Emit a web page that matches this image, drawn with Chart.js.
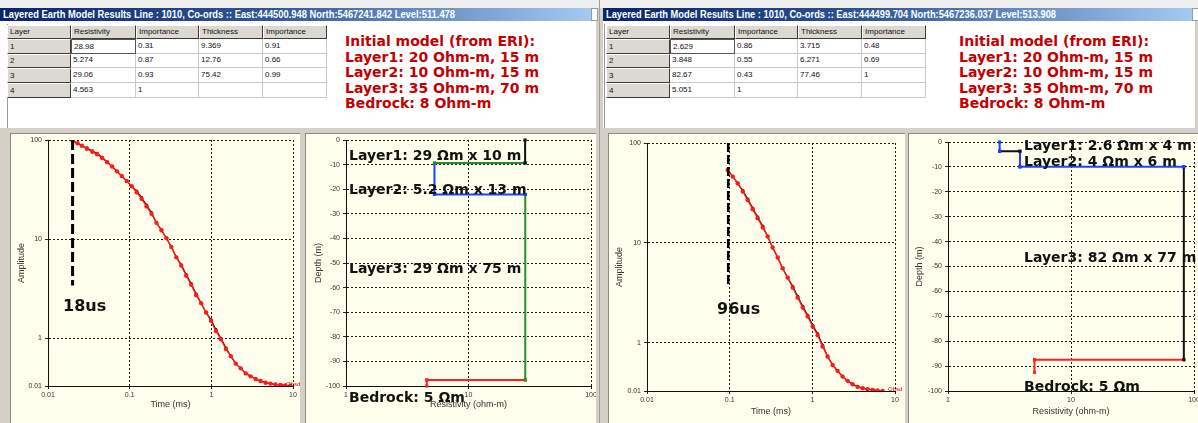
<!DOCTYPE html>
<html><head><meta charset="utf-8">
<script src="https://cdn.jsdelivr.net/npm/chart.js@4.4.1/dist/chart.umd.min.js"></script>
<style>
html,body{margin:0;padding:0;}
body{width:1198px;height:423px;overflow:hidden;position:relative;background:#d4d0c8;font-family:"Liberation Sans",Arial,sans-serif;}
.abs{position:absolute;}
.title{position:absolute;height:13px;top:8px;background:linear-gradient(to right,#0a246a 0%,#2f5594 45%,#a6caf0 100%);color:#fff;white-space:nowrap;overflow:hidden;}
.title span{position:absolute;left:3px;top:0;font:bold 10px "Liberation Sans";line-height:13px;transform-origin:0 50%;}
.icon{position:absolute;top:8px;width:5px;height:11px;background:#fff;border:1px solid #999;}
.body{position:absolute;top:21px;height:107px;background:#fff;}
.cell{position:absolute;box-sizing:border-box;font:8px "Liberation Sans";color:#111;padding-left:2px;white-space:nowrap;overflow:hidden;}
.gray{background:#dcd9d2;border-top:1px solid #fff;border-left:1px solid #fff;border-right:1px solid #3c3c3c;border-bottom:1px solid #3c3c3c;}
.white{background:#fff;border-right:1px solid #c9c9c9;border-bottom:1px solid #c9c9c9;}
.focus{border:1px solid #555;}
.red{position:absolute;top:34px;font:bold 14px "DejaVu Sans";line-height:15.6px;color:#c40000;white-space:nowrap;}
.panel{position:absolute;top:133px;height:290px;background:#fefeec;box-sizing:border-box;border-left:1px solid #8a8a8a;border-top:1px solid #8a8a8a;}
canvas{position:absolute;}
.lbl{position:absolute;font:bold 14px "DejaVu Sans";line-height:16px;color:#111;white-space:nowrap;}
.big{position:absolute;font:bold 16px "DejaVu Sans";line-height:18px;color:#111;white-space:nowrap;}
.tiny{position:absolute;font:6px "Liberation Sans";color:#e00000;white-space:nowrap;line-height:7px;}
</style>
</head>
<body>
<div class="abs" style="left:0;top:0;width:1198px;height:8px;background:#efefef"></div>

<div class="title" style="left:0;width:592px"><span id="tL"></span></div>
<div class="icon" style="left:591px"></div>
<div class="title" style="left:603px;width:590px"><span id="tR"></span></div>
<div class="icon" style="left:1192px"></div>

<div class="body" style="left:0;width:596px"></div>
<div class="abs" style="left:7px;top:24px;width:1px;height:104px;background:#9a9a9a"></div>
<div class="body" style="left:603px;width:592px"></div>
<div class="abs" style="left:604px;top:24px;width:1px;height:104px;background:#9a9a9a"></div>
<div class="abs" style="left:599px;top:0;width:1px;height:423px;background:#a0a0a0"></div>

<div id="tableL"></div>
<div id="tableR"></div>

<div class="red" id="redL" style="left:345px"></div>
<div class="red" id="redR" style="left:959px"></div>

<div class="panel" style="left:10px;width:290px"></div>
<div class="panel" style="left:305px;width:291px"></div>
<div class="panel" style="left:608px;width:297px"></div>
<div class="panel" style="left:908px;width:290px"></div>

<canvas id="ampL" width="290" height="290" style="left:10px;top:133px"></canvas>
<canvas id="depL" width="291" height="290" style="left:305px;top:133px"></canvas>
<canvas id="ampR" width="297" height="290" style="left:608px;top:133px"></canvas>
<canvas id="depR" width="290" height="290" style="left:908px;top:133px"></canvas>

<div id="labels"></div>

<script>
// ---------------- DATA ----------------
const titleLeft = 'Layered Earth Model Results Line : 1010, Co-ords :: East:444500.948 North:5467241.842 Level:511.478';
const titleRight = 'Layered Earth Model Results Line : 1010, Co-ords :: East:444499.704 North:5467236.037 Level:513.908';

const tableHeaders = ['Layer', 'Resistivity', 'Importance', 'Thickness', 'Importance'];
const layerIds = [1, 2, 3, 4];

const leftResistivity = [28.98, 5.274, 29.06, 4.563];
const leftResImportance = [0.31, 0.87, 0.93, 1];
const leftThickness = [9.369, 12.76, 75.42];
const leftThkImportance = [0.91, 0.66, 0.99];
const leftBedrockBase = -100;

const rightResistivity = [2.629, 3.848, 82.67, 5.051];
const rightResImportance = [0.86, 0.55, 0.43, 1];
const rightThickness = [3.715, 6.271, 77.46];
const rightThkImportance = [0.48, 0.69, 1];
const rightBedrockBase = -92.5;

const initialModelText = ['Initial model (from ERI):', 'Layer1: 20 Ohm-m, 15 m', 'Layer2: 10 Ohm-m, 15 m', 'Layer3: 35 Ohm-m, 70 m', 'Bedrock: 8 Ohm-m'];

// Decay curves (time in ms, amplitude)
const leftTimes = [0.020, 0.023, 0.026, 0.030, 0.035, 0.040, 0.046, 0.053, 0.061, 0.070, 0.080, 0.092, 0.106, 0.122, 0.140, 0.161, 0.185, 0.213, 0.245, 0.282, 0.324, 0.373, 0.429, 0.493, 0.567, 0.652, 0.750, 0.862, 0.991, 1.14, 1.31, 1.51, 1.73, 1.99, 2.29, 2.64, 3.03, 3.49, 4.01, 4.61, 5.30, 6.10, 7.01, 8.06, 9.27];
const leftObserved = [98, 92.6, 87.6, 81.7, 76, 71.8, 65.8, 59.8, 54.1, 48.3, 43.3, 38.5, 34.1, 29.7, 25.5, 21.4, 18, 14.6, 12.3, 10.2, 8.34, 6.55, 5.4, 4.27, 3.47, 2.72, 2.26, 1.82, 1.5, 1.18, 0.975, 0.78, 0.66, 0.555, 0.497, 0.442, 0.413, 0.388, 0.37, 0.356, 0.349, 0.343, 0.339, 0.335, 0.333];
const leftModel = [98, 92.6, 87.6, 83.2, 77.6, 73.2, 67, 59.8, 54.1, 48.3, 43.3, 38.5, 34.1, 30.5, 26.2, 22, 18.5, 14.6, 12.3, 10.2, 8.34, 6.55, 5.5, 4.38, 3.56, 2.79, 2.26, 1.82, 1.54, 1.22, 1.0, 0.8, 0.66, 0.555, 0.497, 0.442, 0.413, 0.388, 0.37, 0.356, 0.349, 0.343, 0.339, 0.335, 0.333];
const leftMarkerTime = 0.02;
const leftMarkerAmp = [100, 3.4];

const rightTimes = [0.0946, 0.109, 0.125, 0.144, 0.165, 0.190, 0.218, 0.251, 0.288, 0.331, 0.381, 0.437, 0.503, 0.578, 0.664, 0.764, 0.877, 1.01, 1.16, 1.33, 1.53, 1.76, 2.02, 2.32, 2.67, 3.07, 3.53, 4.06, 4.66, 5.36, 6.16, 7.08];
const rightObserved = [53.7, 46.1, 39.5, 32.7, 26.9, 21.7, 17.7, 14.3, 11.6, 9.0, 7.15, 5.58, 4.5, 3.58, 2.84, 2.26, 1.84, 1.46, 1.19, 0.92, 0.73, 0.60, 0.525, 0.461, 0.417, 0.386, 0.363, 0.352, 0.344, 0.339, 0.334, 0.331];
const rightModel = [53.7, 46.1, 39.5, 33.5, 27.6, 22.3, 18.2, 14.7, 11.6, 9.0, 7.15, 5.58, 4.5, 3.68, 2.92, 2.33, 1.9, 1.5, 1.23, 0.95, 0.73, 0.60, 0.525, 0.461, 0.417, 0.386, 0.363, 0.352, 0.344, 0.339, 0.334, 0.331];
const rightMarkerTime = 0.096;
const rightMarkerAmp = [100, 3.8];

// Axis ticks
const timeTicks = [0.01, 0.1, 1, 10];
const timeTickLabels = ['0.01', '0.1', '1', '10'];
const ampTicks = [0.33, 1, 10, 100];
const ampTickLabels = ['0.01', '1', '10', '100'];
const resTicks = [1, 10, 100];
const resTickLabels = ['1', '10', '100'];

// Segment colours of the layered-model step plots
const leftSegColors = ['#111111', '#2e8b2e', '#2040ff', '#2040ff', '#2e8b2e', '#ff2020', '#ff2020'];
const rightSegColors = ['#2040ff', '#111111', '#2040ff', '#2040ff', '#111111', '#ff2020', '#ff2020'];

// Annotation texts
const leftLayerLabels = ['Layer1: 29 Ωm x 10 m', 'Layer2: 5.2 Ωm x 13 m', 'Layer3: 29 Ωm x 75 m', 'Bedrock: 5 Ωm'];
const rightLayerLabels = ['Layer1: 2.6 Ωm x 4 m', 'Layer2: 4 Ωm x 6 m', 'Layer3: 82 Ωm x 77 m', 'Bedrock: 5 Ωm'];

// ---------------- PAGE CHROME ----------------
function fitTitle(id, text, target) {
  const s = document.getElementById(id);
  s.textContent = text;
  const w = s.getBoundingClientRect().width;
  s.style.transform = 'scaleX(' + (target / w) + ')';
}
fitTitle('tL', titleLeft, 452);
fitTitle('tR', titleRight, 450);

function buildTable(containerId, x0, y0, res, resImp, thk, thkImp) {
  const c = document.getElementById(containerId);
  const colEdges = [0, 64, 129, 192, 256, 320];
  const rowEdges = [0, 14, 29, 43, 58, 73];
  const rows = [tableHeaders];
  for (let i = 0; i < layerIds.length; i++) {
    rows.push([String(layerIds[i]), String(res[i]), String(resImp[i]),
      thk[i] !== undefined ? String(thk[i]) : '', thkImp[i] !== undefined ? String(thkImp[i]) : '']);
  }
  rows.forEach((row, r) => {
    row.forEach((txt, k) => {
      const d = document.createElement('div');
      let cls = 'cell ' + ((r === 0 || k === 0) ? 'gray' : 'white');
      if (r === 1 && k === 1) cls += ' focus';
      d.className = cls;
      const h = rowEdges[r + 1] - rowEdges[r];
      d.style.left = (x0 + colEdges[k]) + 'px';
      d.style.top = (y0 + rowEdges[r]) + 'px';
      d.style.width = (colEdges[k + 1] - colEdges[k]) + 'px';
      d.style.height = h + 'px';
      d.style.lineHeight = (h - 2) + 'px';
      d.textContent = txt;
      c.appendChild(d);
    });
  });
}
buildTable('tableL', 7, 25, leftResistivity, leftResImportance, leftThickness, leftThkImportance);
buildTable('tableR', 606, 25, rightResistivity, rightResImportance, rightThickness, rightThkImportance);

document.getElementById('redL').innerHTML = initialModelText.join('<br>');
document.getElementById('redR').innerHTML = initialModelText.join('<br>');

function addLabel(cls, text, x, y) {
  const d = document.createElement('div');
  d.className = cls;
  d.style.left = x + 'px';
  d.style.top = y + 'px';
  d.textContent = text;
  document.getElementById('labels').appendChild(d);
}
addLabel('lbl', leftLayerLabels[0], 349, 147);
addLabel('lbl', leftLayerLabels[1], 349, 181);
addLabel('lbl', leftLayerLabels[2], 349, 260);
addLabel('lbl', leftLayerLabels[3], 349, 389);
addLabel('lbl', rightLayerLabels[0], 1024, 137);
addLabel('lbl', rightLayerLabels[1], 1024, 153);
addLabel('lbl', rightLayerLabels[2], 1024, 249);
addLabel('lbl', rightLayerLabels[3], 1024, 378);
addLabel('big', '18us', 63, 297);
addLabel('big', '96us', 717, 300);
addLabel('tiny', 'Obsd', 286, 381);
addLabel('tiny', 'Obsd', 888, 386);

// ---------------- CHARTS ----------------
Chart.defaults.font.family = '"Liberation Sans", Arial, sans-serif';

function zeroPad(s) { s.paddingLeft = 0; s.paddingRight = 0; s.paddingTop = 0; s.paddingBottom = 0; }

function axisCommon(extra) {
  return Object.assign({
    bounds: 'data',
    grid: { color: '#1a1a1a', lineWidth: 1, tickLength: 3, tickColor: '#222', tickWidth: 1 },
    border: { display: true, color: '#111', width: 1, dash: [2, 2] },
  }, extra);
}

function logAxis(min, max, ticks, labels, size, titleText, titlePad, horizontal) {
  return axisCommon({
    type: 'logarithmic', min: min, max: max,
    afterBuildTicks: s => { s.ticks = ticks.map(v => ({ value: v })); },
    afterFit: s => { if (horizontal) s.height = size; else s.width = size; zeroPad(s); },
    ticks: { autoSkip: false, maxRotation: 0, minRotation: 0, font: { size: 7 }, color: '#333', padding: horizontal ? 2 : 3,
      callback: (v, i) => labels[i] },
    title: { display: true, text: titleText, font: { size: 9 }, color: '#333',
      padding: horizontal ? { top: 0, bottom: titlePad } : { top: titlePad, bottom: 0 } }
  });
}

function baseOptions(d, xAxis, yAxis) {
  return {
    responsive: false, animation: false, events: [],
    layout: { padding: { left: 0, top: d.pt, right: d.pr, bottom: 0 } },
    plugins: { legend: { display: false }, tooltip: { enabled: false }, title: { display: false } },
    scales: { x: xAxis, y: yAxis }
  };
}

function ampChart(id, times, obs, model, markerT, markerA, d) {
  const obsPts = times.map((t, i) => ({ x: t, y: obs[i] }));
  const modPts = times.map((t, i) => ({ x: t, y: model[i] }));
  const dashPts = markerA.map(a => ({ x: markerT, y: a }));
  new Chart(document.getElementById(id), {
    type: 'scatter',
    data: { datasets: [
      { data: modPts, order: 3, showLine: true, borderColor: '#111', backgroundColor: '#111', borderWidth: 1.2, pointRadius: 1.6, pointBorderWidth: 0 },
      { data: obsPts, order: 2, showLine: true, borderColor: '#ff1a1a', backgroundColor: '#ff1a1a', borderWidth: 1.3, pointRadius: 2.2, pointBorderWidth: 0 },
      { data: dashPts, order: 1, showLine: true, borderColor: '#000', borderWidth: d.dashW, borderDash: d.dash, pointRadius: 0 }
    ] },
    options: baseOptions(d,
      logAxis(0.01, 10, timeTicks, timeTickLabels, d.xh, 'Time (ms)', d.xtp, true),
      logAxis(0.33, 100, ampTicks, ampTickLabels, d.yw, 'Amplitude', d.ytp, false))
  });
}

function depthChart(id, res, thk, base, colors, d) {
  const d1 = -thk[0], d2 = -(thk[0] + thk[1]), d3 = -(thk[0] + thk[1] + thk[2]);
  const segs = [
    [[res[0], 0], [res[0], d1]],
    [[res[0], d1], [res[1], d1]],
    [[res[1], d1], [res[1], d2]],
    [[res[1], d2], [res[2], d2]],
    [[res[2], d2], [res[2], d3]],
    [[res[2], d3], [res[3], d3]],
    [[res[3], d3], [res[3], base]]
  ];
  const datasets = segs.map((s, i) => ({
    data: s.map(p => ({ x: p[0], y: p[1] })), showLine: true,
    borderColor: colors[i], backgroundColor: colors[i], borderWidth: 2,
    pointStyle: 'rect', pointRadius: 2.2, pointBorderWidth: 0, clip: false
  }));
  const yAxis = axisCommon({
    type: 'linear', min: -100, max: 0,
    afterFit: s => { s.width = d.yw; zeroPad(s); },
    ticks: { stepSize: 10, autoSkip: false, font: { size: 7 }, color: '#333', padding: 3 },
    title: { display: true, text: 'Depth (m)', font: { size: 9 }, color: '#333', padding: { top: d.ytp, bottom: 0 } }
  });
  new Chart(document.getElementById(id), {
    type: 'scatter',
    data: { datasets: datasets },
    options: baseOptions(d,
      logAxis(1, 100, resTicks, resTickLabels, d.xh, 'Resistivity (ohm-m)', d.xtp, true),
      yAxis)
  });
}

ampChart('ampL', leftTimes, leftObserved, leftModel, leftMarkerTime, leftMarkerAmp,
  { pt: 7, pr: 7, xh: 37, yw: 38, xtp: 12.6, ytp: 6.3, dashW: 3, dash: [10, 4] });
ampChart('ampR', rightTimes, rightObserved, rightModel, rightMarkerTime, rightMarkerAmp,
  { pt: 10, pr: 10, xh: 32, yw: 39, xtp: 5.6, ytp: 6.6, dashW: 2.5, dash: [9, 3] });
depthChart('depL', leftResistivity, leftThickness, leftBedrockBase, leftSegColors,
  { pt: 7, pr: 5, xh: 37, yw: 41, xtp: 12.6, ytp: 8.6 });
depthChart('depR', rightResistivity, rightThickness, rightBedrockBase, rightSegColors,
  { pt: 9, pr: 1, xh: 32, yw: 40, xtp: 5.6, ytp: 6.6 });
</script>
</body></html>
